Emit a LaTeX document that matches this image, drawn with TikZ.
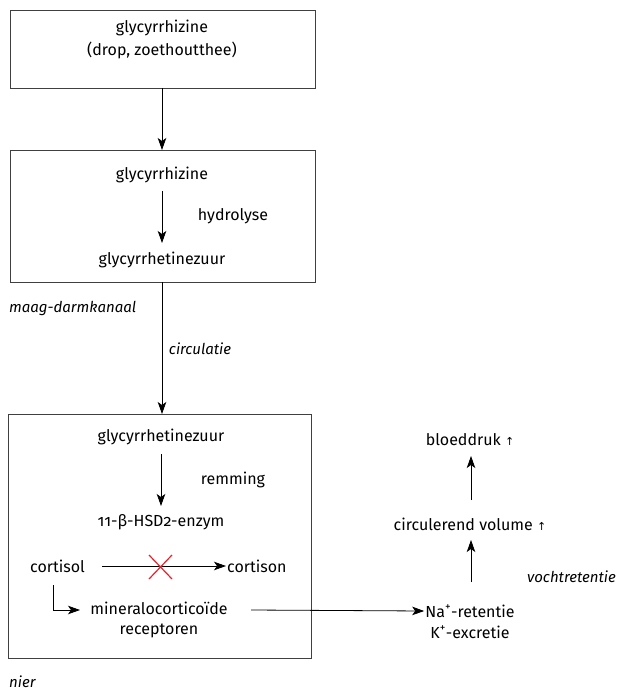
\documentclass[tikz,border=0pt]{standalone}
\usepackage{fontspec}
\setmainfont{Fira Sans}[Numbers=OldStyle]
\newfontfamily\symfont{DejaVu Sans}
\usetikzlibrary{arrows.meta}
\definecolor{xred}{HTML}{E8202A}
\tikzset{
  box/.style={draw=black!75, line width=0.9pt},
  txt/.style={inner sep=1pt, font=\fontsize{16}{20}\selectfont},
  lbl/.style={inner sep=1pt, font=\fontsize{15}{19}\selectfont\itshape},
  arr/.style={-{Stealth[length=12pt,width=8.5pt,inset=3pt]}, line width=0.8pt},
}
\newcommand{\upar}{{\symfont\fontsize{11}{11}\selectfont ↑}}
\begin{document}
\begin{tikzpicture}[x=1pt,y=-1pt]
\useasboundingbox (0,0) rectangle (620,692);
% boxes
\draw[box] (10,10) rectangle (315,88);
\draw[box] (10,150) rectangle (315,282);
\draw[box] (8,414) rectangle (311,658);
\coordinate (b1s) at (162,88);
\coordinate (b2n) at (162,150);
\coordinate (b2s) at (162,282);
\coordinate (b3n) at (162,414);
% box1
\node[txt] (t1) at (162,28) {glycyrrhizine};
\node[txt] (t2) at (162,50) {(drop, zoethoutthee)};
\draw[arr] (b1s) -- (b2n);
% box2
\node[txt] (g1) at (162,175) {glycyrrhizine};
\node[txt] (g2) at (162,260) {glycyrrhetinezuur};
\draw[arr] (162,191) -- (162,243);
\node[txt] (hyd) at (233,216) {hydrolyse};
\node[lbl, anchor=west] (md) at (8,308) {maag-darmkanaal};
\node[lbl] (circ) at (200,349) {circulatie};
\draw[arr] (b2s) -- (b3n);
% box3
\node[txt] (h1) at (161,437) {glycyrrhetinezuur};
\node[txt] (enz) at (161,522) {11-β-HSD2-enzym};
\draw[arr] (161,454) -- (161,506);
\node[txt] (rem) at (233,480) {remming};
\node[txt, anchor=west] (cortisol) at (29,566) {cortisol};
\node[txt, anchor=west] (cortison) at (226,566) {cortison};
\draw[arr] (102,566) -- (cortison.west);
\draw[xred, line width=1.2pt] (149,555) -- (172,579) (149,579) -- (172,555);
\node[txt, align=center] (mr) at (159,620) {mineralocorticoïde\\receptoren};
\coordinate (mrin) at (80,610);
\coordinate (mrout) at (251,610);
\draw[arr] (53,585) |- (mrin);
\node[lbl, anchor=base west] (nier) at (8,687) {nier};
% right column
\node[txt] (na) at (470,611) {Na\textsuperscript{+}-retentie};
\node[txt] (k) at (470,632) {K\textsuperscript{+}-excretie};
\draw[arr] (mrout) -- (na.west);
\node[txt] (vol) at (470,524) {circulerend volume \upar};
\node[txt] (bd) at (470,440) {bloeddruk \upar};
\draw[arr] (471,582) -- (471,540);
\draw[arr] (471,500) -- (471,456);
\node[lbl, anchor=east] (voch) at (617,577) {vochtretentie};
\end{tikzpicture}
\end{document}
